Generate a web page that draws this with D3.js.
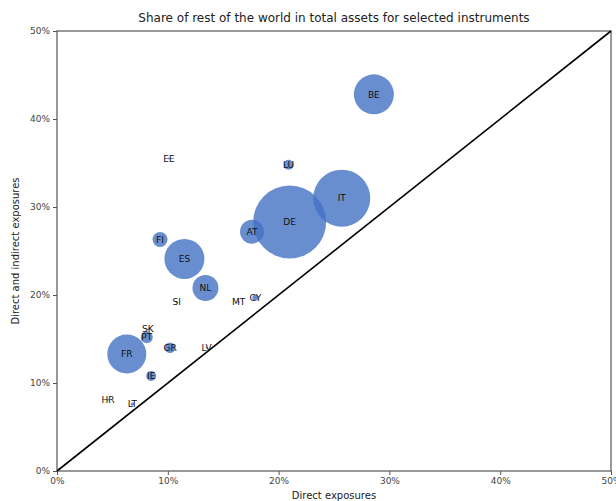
<!DOCTYPE html>
<html>
<head>
<meta charset="utf-8">
<script src="https://cdn.jsdelivr.net/npm/d3@7"></script>
<style>
  body { margin: 0; background: white; }
  text { font-family: "DejaVu Sans", sans-serif; }
</style>
</head>
<body>
<svg width="616" height="501"></svg>
<script>
// country codes, direct exposures (%), direct + indirect (%), bubble size
var countries = ["DE", "IT", "BE", "ES", "FR", "NL", "AT", "FI", "PT", "GR", "LU", "IE", "CY", "LT", "EE", "SI", "MT", "SK", "LV", "HR"];
var direct    = [21.0, 25.7, 28.6, 11.5, 6.3, 13.4, 17.6, 9.3, 8.1, 10.2, 20.9, 8.5, 17.9, 6.8, 10.1, 10.8, 16.4, 8.2, 13.5, 4.6];
var indirect  = [28.3, 31.0, 42.8, 24.1, 13.3, 20.8, 27.2, 26.3, 15.2, 14.0, 34.8, 10.8, 19.7, 7.6, 35.5, 19.2, 19.2, 16.1, 14.0, 8.1];
var sizes     = [1332, 812, 400, 400, 380, 169, 144, 56, 36, 28, 25, 25, 9, 3, 1, 1, 1, 1, 1, 1];
var ticks     = [0, 10, 20, 30, 40, 50];

var svg = d3.select("svg"),
    width = +svg.attr("width"),
    height = +svg.attr("height");

var plotLeft = 57, plotRight = 611, plotTop = 31, plotBottom = 471;

var x = d3.scaleLinear().domain([0, 50]).range([plotLeft, plotRight]);
var y = d3.scaleLinear().domain([0, 50]).range([plotBottom, plotTop]);
var r = d3.scaleSqrt().domain([0, d3.max(sizes)]).range([0, 36.5]);

var data = countries.map(function(c, i) {
    return {name: c, x: direct[i], y: indirect[i], s: sizes[i]};
});

// axes
var xAxis = svg.append("g")
    .attr("transform", "translate(0," + plotBottom + ")")
    .call(d3.axisBottom(x).tickValues(ticks).tickSize(4).tickFormat(function(d){ return d + "%"; }));
var yAxis = svg.append("g")
    .attr("transform", "translate(" + plotLeft + ",0)")
    .call(d3.axisLeft(y).tickValues(ticks).tickSize(4).tickFormat(function(d){ return d + "%"; }));

[xAxis, yAxis].forEach(function(a) {
    a.select(".domain").remove();
    a.selectAll("line").attr("stroke", "#555");
    a.selectAll("text").attr("font-size", 9).attr("fill", "#444");
});

// frame
svg.append("rect")
    .attr("x", plotLeft).attr("y", plotTop)
    .attr("width", plotRight - plotLeft).attr("height", plotBottom - plotTop)
    .attr("fill", "none")
    .attr("stroke", "#555")
    .attr("stroke-width", 1.2);

// 45 degree line
svg.append("line")
    .attr("x1", x(0)).attr("y1", y(0))
    .attr("x2", x(50)).attr("y2", y(50))
    .attr("stroke", "black")
    .attr("stroke-width", 1.6);

// bubbles
var node = svg.append("g")
    .selectAll("g")
    .data(data)
    .enter()
    .append("g")
    .attr("transform", function(d){ return "translate(" + x(d.x) + "," + y(d.y) + ")"; });

node.append("circle")
    .attr("r", function(d){ return r(d.s); })
    .style("fill", "#4472c4")
    .style("fill-opacity", 0.8);

node.append("text")
    .attr("text-anchor", "middle")
    .attr("dy", "0.35em")
    .attr("font-size", 9)
    .attr("fill", "#111")
    .text(function(d){ return d.name; });

// titles
svg.append("text")
    .attr("x", (plotLeft + plotRight) / 2).attr("y", 22)
    .attr("text-anchor", "middle")
    .attr("font-size", 12)
    .attr("fill", "#222")
    .text("Share of rest of the world in total assets for selected instruments");

svg.append("text")
    .attr("x", (plotLeft + plotRight) / 2).attr("y", 499)
    .attr("text-anchor", "middle")
    .attr("font-size", 10)
    .attr("fill", "#222")
    .text("Direct exposures");

svg.append("text")
    .attr("transform", "translate(19," + (plotTop + plotBottom) / 2 + ") rotate(-90)")
    .attr("text-anchor", "middle")
    .attr("font-size", 10)
    .attr("fill", "#222")
    .text("Direct and indirect exposures");
</script>
</body>
</html>
